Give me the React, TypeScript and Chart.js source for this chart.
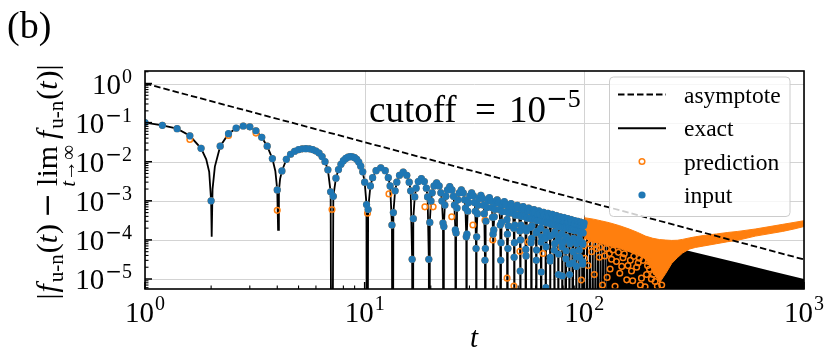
import React, { useEffect, useRef } from "react";
import { Chart, registerables } from "chart.js";

Chart.register(...registerables);

const SERIF = '"Liberation Serif", "Times New Roman", Times, serif';
const MATHMINUS = '"DejaVu Serif", serif';
const BLUE = "#1f77b4";
const ORANGE = "#ff7f0e";

// ---------- axes ----------
const xRange = [1, 1000];
const yRange = [5.55e-6, 2.09];
const xMajorTicks = [1, 10, 100, 1000];
const xTickExponents = ["0", "1", "2", "3"];
const yMajorTicks = [1e-5, 1e-4, 1e-3, 1e-2, 1e-1, 1];
const yTickExponents = ["-5", "-4", "-3", "-2", "-1", "0"];
const legendLabels = ["asymptote", "exact", "prediction", "input"];

// ---------- data (t, value) ----------
const asymptotePts = [[1, 1], [1000, 3.16e-5]];

const exactEarly = [
  [1.0, 0.1], [1.2, 0.085], [1.4, 0.07], [1.6, 0.046], [1.8, 0.022], [1.9, 0.0115], [1.96, 0.0055],
  [2.0, 0.001], [2.012, 0.00012], [2.03, 0.002], [2.08, 0.0075], [2.2, 0.025], [2.4, 0.052], [2.6, 0.072],
  [2.8, 0.082], [3.0, 0.078], [3.2, 0.062], [3.4, 0.042], [3.6, 0.025], [3.8, 0.012], [3.92, 0.0058],
  [4.0, 0.0019], [4.035, 0.00018], [4.07, 0.0018], [4.12, 0.0036], [4.2, 0.0058], [4.4, 0.0115],
  [4.6, 0.0155], [4.8, 0.0185], [5.0, 0.0203], [5.2, 0.0213], [5.4, 0.0216], [5.6, 0.0213], [5.8, 0.0204],
  [6.0, 0.0188], [6.2, 0.0166], [6.4, 0.0136], [6.6, 0.01], [6.8, 0.0062], [7.0, 0.0017], [7.08, 1e-12],
  [7.2, 0.0013], [7.4, 0.0038], [7.6, 0.0063], [7.8, 0.0086], [8.0, 0.0106], [8.2, 0.0121], [8.4, 0.0131],
  [8.6, 0.0135], [8.8, 0.0134], [9.0, 0.0127], [9.2, 0.0115], [9.4, 0.0098], [9.6, 0.0077], [9.8, 0.0055],
  [10.0, 0.003], [10.2, 0.0008], [10.27, 1e-12],
];

const exactLobes = [
  [10.37, 6e-4], [10.62, 0.0024], [10.87, 0.0039], [11.27, 0.0059], [11.84, 0.007], [12.41, 0.0059], [12.81, 0.0039], [13.06, 0.0024], [13.31, 2.4e-4], [13.41, 1e-12],
  [13.51, 5e-4], [13.76, 0.0018], [14.01, 0.003], [14.41, 0.0045], [14.98, 0.0054], [15.55, 0.0045], [15.95, 0.003], [16.2, 0.0018], [16.45, 3.2e-5], [16.55, 1e-12],
  [16.65, 3.5e-4], [16.9, 0.00126], [17.15, 0.0021], [17.55, 0.0031], [18.12, 0.0037], [18.69, 0.0031], [19.09, 0.0021], [19.34, 0.00126], [19.59, 3.2e-5], [19.69, 1e-12],
  [19.79, 2.8e-4], [20.04, 0.00099], [20.29, 0.0016], [20.69, 0.0024], [21.26, 0.0029], [21.83, 0.0024], [22.23, 0.0016], [22.48, 0.00099], [22.73, 2.7e-4], [22.83, 1e-12],
  [22.93, 2.2e-4], [23.18, 7.8e-4], [23.43, 0.0013], [23.83, 0.0019], [24.4, 0.0023], [24.97, 0.0019], [25.37, 0.0013], [25.62, 7.8e-4], [25.87, 1.8e-4], [25.97, 1e-12],
  [26.07, 1.5e-4], [26.32, 6.5e-4], [26.57, 0.00106], [26.97, 0.0016], [27.54, 0.0019], [28.11, 0.0016], [28.51, 0.00106], [28.76, 6.5e-4], [29.01, 1.2e-4], [29.11, 1e-12],
  [29.21, 1.4e-4], [29.46, 5.4e-4], [29.71, 9e-4], [30.11, 0.00134], [30.68, 0.0016], [31.25, 0.00134], [31.65, 9e-4], [31.9, 5.4e-4], [32.15, 6e-5], [32.25, 1e-12],
  [32.35, 1.2e-4], [32.6, 4.7e-4], [32.85, 7.7e-4], [33.25, 0.00116], [33.82, 0.00138], [34.39, 0.00116], [34.79, 7.7e-4], [35.04, 4.7e-4], [35.29, 3e-5], [35.39, 1e-12],
  [35.44, 6e-5], [35.64, 3.0e-4], [35.99, 6.7e-4], [36.39, 1.0e-3], [36.96, 1.2e-3], [37.53, 1.0e-3], [37.93, 6.7e-4], [38.21, 3.8e-4], [38.41, 1.4e-4], [38.53, 1e-12],
  [38.7, 1.8e-4], [38.9, 3.9e-4], [39.13, 6e-4], [39.53, 8.9e-4], [40.1, 1.06e-3], [40.67, 8.9e-4], [41.07, 6e-4], [41.44, 2.4e-4], [41.64, 3e-5], [41.67, 1e-12],
  [41.76, 8.5e-5], [41.96, 2.8e-4], [42.27, 5.3e-4], [42.67, 8e-4], [43.24, 9.5e-4], [43.81, 8e-4], [44.21, 5.3e-4], [44.46, 3.3e-4], [44.66, 1.4e-4], [44.81, 1e-12],
  [44.88, 6e-5], [45.08, 2.3e-4], [45.41, 4.8e-4], [45.81, 7.1e-4], [46.38, 8.5e-4], [46.95, 7.1e-4], [47.35, 4.8e-4], [47.71, 2.0e-4], [47.91, 3.6e-5], [47.95, 1e-12],
  [48.06, 8.5e-5], [48.26, 2.4e-4], [48.55, 4.3e-4], [48.95, 6.5e-4], [49.52, 7.7e-4], [50.09, 6.5e-4], [50.49, 4.3e-4], [50.87, 1.7e-4], [51.07, 1.6e-5], [51.09, 1e-12],
  [51.23, 1.0e-4], [51.43, 2.4e-4], [51.69, 4e-4], [52.09, 6e-4], [52.66, 7.1e-4], [53.23, 6e-4], [53.63, 4e-4], [53.95, 2e-4], [54.15, 5.7e-5], [54.23, 1e-12],
  [54.29, 3.9e-5], [54.49, 1.7e-4], [54.83, 3.6e-4], [55.23, 5.5e-4], [55.8, 6.5e-4], [56.37, 5.5e-4], [56.77, 3.6e-4], [57.04, 2.1e-4], [57.24, 8.5e-5], [57.37, 1e-12],
  [57.55, 1.1e-4], [57.75, 2.3e-4], [57.97, 3.4e-4], [58.37, 5e-4], [58.94, 6e-4], [59.51, 5e-4], [59.91, 3.4e-4], [60.26, 1.5e-4], [60.46, 3e-5], [60.51, 1e-12],
  [60.61, 5.5e-5], [60.81, 1.65e-4], [61.11, 3.1e-4], [61.51, 4.6e-4], [62.08, 5.5e-4], [62.65, 4.6e-4], [63.05, 3.1e-4], [63.29, 2e-4], [63.49, 8.8e-5], [63.65, 1e-12],
  [63.68, 1.5e-5], [63.88, 1.2e-4], [64.25, 2.9e-4], [64.65, 4.3e-4], [65.22, 5.1e-4], [65.79, 4.3e-4], [66.19, 2.9e-4], [66.58, 1.1e-4], [66.78, 6e-6], [66.79, 1e-12],
  [66.93, 6.7e-5], [67.13, 1.6e-4], [67.39, 2.7e-4], [67.79, 4e-4], [68.36, 4.8e-4], [68.93, 4e-4], [69.33, 2.7e-4], [69.67, 1.25e-4], [69.87, 2.9e-5], [69.93, 1e-12],
  [70.01, 3.6e-5], [70.21, 1.26e-4], [70.53, 2.5e-4], [70.93, 3.8e-4], [71.5, 4.5e-4], [72.07, 3.8e-4], [72.47, 2.5e-4], [72.75, 1.4e-4], [72.95, 5.4e-5], [73.07, 1e-12],
  [73.26, 8e-5], [73.46, 1.6e-4], [73.67, 2.4e-4], [74.07, 3.5e-4], [74.64, 4.2e-4], [75.21, 3.5e-4], [75.61, 2.4e-4], [75.98, 9.5e-5], [76.18, 1.3e-5], [76.21, 1e-12],
  [76.32, 4.3e-5], [76.52, 1.2e-4], [76.81, 2.2e-4], [77.21, 3.3e-4], [77.78, 3.9e-4], [78.35, 3.3e-4], [78.75, 2.2e-4], [78.98, 1.45e-4], [79.18, 6.6e-5], [79.35, 1e-12],
  [79.38, 1.2e-5], [79.58, 8.5e-5], [79.95, 2.1e-4], [80.35, 3.1e-4], [80.92, 3.7e-4], [81.49, 3.1e-4], [81.89, 2.1e-4], [82.2, 1.07e-4], [82.4, 3.3e-5], [82.49, 1e-12],
  [82.64, 5.2e-5], [82.84, 1.2e-4], [83.09, 2e-4], [83.49, 2.9e-4], [84.06, 3.5e-4], [84.63, 2.9e-4], [85.03, 2e-4], [85.36, 9.5e-5], [85.56, 2.4e-5], [85.63, 1e-12],
  [85.67, 1.3e-5], [85.87, 8e-5], [86.23, 1.85e-4], [86.63, 2.8e-4], [87.2, 3.3e-4], [87.77, 2.8e-4], [88.17, 1.85e-4], [88.49, 9.2e-5], [88.69, 2.6e-5], [88.77, 1e-12],
  [88.93, 5e-5], [89.13, 1.1e-4], [89.37, 1.75e-4], [89.77, 2.6e-4], [90.34, 3.1e-4], [90.91, 2.6e-4], [91.31, 1.75e-4], [91.59, 1e-4], [91.79, 3.7e-5], [91.91, 1e-12],
  [91.98, 2.1e-5], [92.18, 8e-5], [92.51, 1.7e-4], [92.91, 2.5e-4], [93.48, 3e-4], [94.05, 2.5e-4], [94.45, 1.7e-4], [94.67, 1.1e-4], [94.87, 5.4e-5], [95.05, 1e-12],
  [95.18, 3.6e-5], [95.38, 9.2e-5], [95.65, 1.6e-4], [96.05, 2.35e-4], [96.62, 2.8e-4], [97.19, 2.35e-4], [97.59, 1.6e-4], [97.89, 8.4e-5], [98.09, 2.8e-5], [98.19, 1e-12],
  [98.28, 2.4e-5], [98.48, 7.8e-5], [98.79, 1.5e-4], [99.19, 2.3e-4], [99.76, 2.7e-4],
];

const exactTail = [
  [101.33, 1e-12], [102.9, 2.5e-4], [104.47, 1e-12], [106.04, 2.4e-4], [107.61, 1e-12], [109.18, 2.3e-4],
  [110.75, 1e-12], [112.32, 2.2e-4], [113.89, 1e-12], [115.46, 2.1e-4], [117.03, 1e-12], [118.6, 2.0e-4],
  [120.17, 1e-12], [121.74, 1.95e-4], [123.31, 1e-12], [124.88, 1.9e-4], [126.45, 1e-12], [128.02, 1.8e-4],
  [129.59, 1e-12],
];

// upper envelope of the densely oscillating exact curve (t > 128)
const exactDenseTop = [
  [128, 1.75e-4], [160, 1.25e-4], [200, 9.3e-5], [313, 4.9e-5], [500, 2.6e-5], [700, 1.63e-5], [1000, 1.0e-5],
];

// prediction: outline of the solid mass of overlapping rings (t > 100)
const predictionBandT = [100, 110, 120, 130, 145, 160, 175, 190, 205, 220, 235, 250, 265, 280, 300, 320, 350, 400, 450, 500, 600, 700, 800, 900, 1000];
const predictionBandUpper = [3.7e-4, 3.4e-4, 3.05e-4, 2.75e-4, 2.3e-4, 1.9e-4, 1.55e-4, 1.25e-4, 1.1e-4, 1.02e-4, 9.9e-5, 9.7e-5, 9.8e-5, 1.03e-4, 1.12e-4, 1.2e-4, 1.3e-4, 1.42e-4, 1.55e-4, 1.65e-4, 1.9e-4, 2.2e-4, 2.5e-4, 2.8e-4, 3.1e-4];
const predictionBandLower = [1.1e-4, 9e-5, 8e-5, 7e-5, 6e-5, 5e-5, 4.2e-5, 3.3e-5, 1.6e-5, 8e-6, 1.4e-5, 2.5e-5, 3.5e-5, 4.6e-5, 5.8e-5, 6.4e-5, 7.0e-5, 8.0e-5, 9.0e-5, 9.8e-5, 1.25e-4, 1.45e-4, 1.65e-4, 1.9e-4, 2.2e-4];

// prediction rings that differ from the input (t <= 100)
const predictionDeviations = [
  [1.6, 0.037], [2.4, 0.047], [3.2, 0.054], [4.0, 5.7e-4], [7.1, 6.0e-4], [10.3, 4.8e-4], [12.9, 1.5e-3],
  [18.8, 7e-4], [20.5, 7e-4], [24.9, 3.9e-4], [31.1, 2.4e-4], [35.3, 3.2e-4], [38.3, 1.0e-4], [44.5, 1.05e-5],
  [47.8, 6.6e-6], [50.9, 5.1e-5], [55.5, 8.9e-5], [64.8, 4.5e-5], [74.6, 6.6e-5], [82, 1.1e-4], [90, 9e-5],
  [97, 9.4e-6], [99.5, 7e-5],
];

// scattered prediction rings below the solid mass (t > 100)
const predictionCloud = [
  [100.4, 3.4e-5], [103, 1.0e-4], [104, 2.2e-5], [106, 8e-5], [108, 5e-5], [111, 1.3e-5], [112, 7.5e-5],
  [114, 6e-5], [117, 3.6e-5], [118, 6.5e-5], [121, 7e-6], [124, 3.9e-5], [126, 6e-5], [127, 1.1e-5],
  [130, 4.5e-5], [131, 1.8e-5], [133, 3.2e-5], [135, 5.5e-5], [138, 6.5e-6], [140, 2.8e-5], [143, 4.8e-5],
  [145, 1.4e-5], [148, 2.1e-5], [150, 3.5e-5], [152, 4.4e-5], [156, 9.5e-6], [158, 2.2e-5], [162, 3e-5],
  [164, 1.6e-5], [166, 9e-6], [168, 3.8e-5], [173, 2e-5], [176, 2.6e-5], [178, 3.4e-5], [180, 7e-6],
  [182, 1.05e-5], [185, 3e-5], [189, 6.3e-6], [192, 1.3e-5], [194, 2.2e-5], [196, 2.8e-5], [198, 1.8e-5],
  [202, 1e-5], [206, 1.3e-5], [210, 8.6e-6], [212, 1.5e-5], [215, 6.5e-6], [225, 7e-6],
];

// ---------- helpers ----------
const toXY = (pairs: number[][]) => pairs.map(([x, y]) => ({ x, y }));

function drawExp(ctx: CanvasRenderingContext2D, exp: string, x: number, y: number, size: number) {
  let cx = x;
  if (exp.startsWith("-")) {
    ctx.font = `${size}px ${MATHMINUS}`;
    ctx.fillText("\u2212", cx, y);
    cx += ctx.measureText("\u2212").width;
    exp = exp.slice(1);
  }
  ctx.font = `${size}px ${SERIF}`;
  ctx.fillText(exp, cx, y);
}

function expWidth(ctx: CanvasRenderingContext2D, exp: string, size: number) {
  let w = 0;
  if (exp.startsWith("-")) {
    ctx.font = `${size}px ${MATHMINUS}`;
    w += ctx.measureText("\u2212").width;
    exp = exp.slice(1);
  }
  ctx.font = `${size}px ${SERIF}`;
  return w + ctx.measureText(exp).width;
}

function drawPow10(ctx: CanvasRenderingContext2D, exp: string, x: number, base: number, sup: number, align: string, big: number, small: number) {
  ctx.font = `${big}px ${SERIF}`;
  const w1 = ctx.measureText("10").width;
  const w2 = expWidth(ctx, exp, small);
  const total = w1 + 1 + w2;
  const left = align === "center" ? x - total / 2 : x - total;
  ctx.font = `${big}px ${SERIF}`;
  ctx.fillText("10", left, base);
  drawExp(ctx, exp, left + w1 + 1, sup, small);
}

function drawYLabel(ctx: CanvasRenderingContext2D) {
  const M = `30px ${SERIF}`;
  const I = `italic 30px ${SERIF}`;
  const S = `21px ${SERIF}`;
  const SI = `italic 21px ${SERIF}`;
  const fPart: any[] = [
    { t: "f", f: I, dy: 0, pad: 2 },
    { t: "u-n", f: S, dy: 6, pad: 1 },
    { t: "(", f: M, dy: 0, pad: 0 },
    { t: "t", f: I, dy: 0, pad: 1 },
    { t: ")", f: M, dy: 0, pad: 0 },
  ];
  const seq: any[] = [
    { t: "|", f: M, dy: 0, pad: 1 },
    ...fPart,
    { t: "\u2212", f: `30px ${MATHMINUS}`, dy: 0, pad: 0, padL: 6, padR: 6 },
    { lim: true },
    ...fPart,
    { t: "|", f: M, dy: 0, pad: 0 },
  ];
  ctx.save();
  const widths = seq.map((p) => {
    if (p.lim) {
      ctx.font = M;
      const wl = ctx.measureText("lim").width;
      ctx.font = SI;
      let ws = ctx.measureText("t").width;
      ctx.font = S;
      ws += ctx.measureText("\u2192\u221e").width;
      return Math.max(wl, ws) + 6;
    }
    ctx.font = p.f;
    return ctx.measureText(p.t).width + (p.pad || 0) + (p.padL || 0) + (p.padR || 0);
  });
  const total = widths.reduce((a, b) => a + b, 0);
  ctx.translate(57, 182);
  ctx.rotate(-Math.PI / 2);
  ctx.fillStyle = "#000";
  let x = -total / 2;
  seq.forEach((p, i) => {
    if (p.lim) {
      const w = widths[i] - 6;
      ctx.font = M;
      const wl = ctx.measureText("lim").width;
      ctx.fillText("lim", x + (w - wl) / 2, 0);
      ctx.font = SI;
      const wt = ctx.measureText("t").width;
      ctx.font = S;
      const wa = ctx.measureText("\u2192\u221e").width;
      const sx = x + (w - wt - wa) / 2;
      ctx.font = SI;
      ctx.fillText("t", sx, 18);
      ctx.font = S;
      ctx.fillText("\u2192\u221e", sx + wt, 18);
    } else {
      ctx.font = p.f;
      ctx.fillText(p.t, x + (p.padL || 0), p.dy);
    }
    x += widths[i];
  });
  ctx.restore();
}

const decor = {
  id: "decor",
  beforeDatasetsDraw(chart: any) {
    const { ctx, chartArea: a, scales } = chart;
    ctx.save();
    ctx.strokeStyle = "#d3d3d3";
    ctx.lineWidth = 1;
    ctx.beginPath();
    xMajorTicks.forEach((v) => {
      const px = Math.round(scales.x.getPixelForValue(v)) + 0.5;
      ctx.moveTo(px, a.top);
      ctx.lineTo(px, a.bottom);
    });
    yMajorTicks.forEach((v) => {
      const py = Math.round(scales.y.getPixelForValue(v)) + 0.5;
      ctx.moveTo(a.left, py);
      ctx.lineTo(a.right, py);
    });
    ctx.stroke();
    ctx.restore();
  },
  afterDatasetsDraw(chart: any) {
    const { ctx, chartArea: a, scales } = chart;
    ctx.save();
    // annotation
    ctx.fillStyle = "#000";
    ctx.textBaseline = "alphabetic";
    ctx.font = `37px ${SERIF}`;
    ctx.fillText("cutoff", 369, 121.5);
    const we = ctx.measureText("=").width;
    ctx.fillText("=", 485.5 - we / 2, 121.5);
    ctx.fillText("10", 509, 121.5);
    drawExp(ctx, "-5", 546, 106.5, 26);

    // legend
    const bx = 609.5, by = 77, bw = 180.5, bh = 139.5, r = 4;
    ctx.beginPath();
    ctx.moveTo(bx + r, by);
    ctx.arcTo(bx + bw, by, bx + bw, by + bh, r);
    ctx.arcTo(bx + bw, by + bh, bx, by + bh, r);
    ctx.arcTo(bx, by + bh, bx, by, r);
    ctx.arcTo(bx, by, bx + bw, by, r);
    ctx.closePath();
    ctx.fillStyle = "rgba(255,255,255,0.8)";
    ctx.fill();
    ctx.strokeStyle = "#cccccc";
    ctx.lineWidth = 1;
    ctx.stroke();
    const rows = [94.5, 128.3, 161.5, 195];
    ctx.strokeStyle = "#000";
    ctx.lineWidth = 1.8;
    ctx.setLineDash([6.5, 3]);
    ctx.beginPath();
    ctx.moveTo(618, rows[0]);
    ctx.lineTo(666, rows[0]);
    ctx.stroke();
    ctx.setLineDash([]);
    ctx.lineWidth = 2;
    ctx.beginPath();
    ctx.moveTo(618, rows[1]);
    ctx.lineTo(666, rows[1]);
    ctx.stroke();
    ctx.strokeStyle = ORANGE;
    ctx.lineWidth = 1.5;
    ctx.beginPath();
    ctx.arc(642, rows[2], 2.8, 0, Math.PI * 2);
    ctx.stroke();
    ctx.fillStyle = BLUE;
    ctx.beginPath();
    ctx.arc(642, rows[3], 3.6, 0, Math.PI * 2);
    ctx.fill();
    ctx.fillStyle = "#000";
    ctx.font = `23.5px ${SERIF}`;
    legendLabels.forEach((s, i) => ctx.fillText(s, 684, rows[i] + 8));

    // frame
    ctx.strokeStyle = "#000";
    ctx.lineWidth = 1.6;
    ctx.strokeRect(a.left, a.top, a.right - a.left, a.bottom - a.top);

    // ticks (inward)
    const tick = (x1: number, y1: number, x2: number, y2: number, w: number) => {
      ctx.lineWidth = w;
      ctx.beginPath();
      ctx.moveTo(x1, y1);
      ctx.lineTo(x2, y2);
      ctx.stroke();
    };
    xMajorTicks.forEach((v) => {
      const px = scales.x.getPixelForValue(v);
      tick(px, a.bottom, px, a.bottom - 7, 1.5);
    });
    for (let d = 0; d < 3; d++) {
      for (let m = 2; m <= 9; m++) {
        const px = scales.x.getPixelForValue(m * Math.pow(10, d));
        tick(px, a.bottom, px, a.bottom - 3.5, 1.1);
      }
    }
    yMajorTicks.forEach((v) => {
      const py = scales.y.getPixelForValue(v);
      tick(a.left, py, a.left + 7, py, 1.5);
    });
    for (let d = -6; d <= 0; d++) {
      for (let m = 2; m <= 9; m++) {
        const v = m * Math.pow(10, d);
        if (v < yRange[0] || v > yRange[1]) continue;
        const py = scales.y.getPixelForValue(v);
        tick(a.left, py, a.left + 3.5, py, 1.1);
      }
    }
    ctx.restore();
  },
  afterDraw(chart: any) {
    const { ctx, chartArea: a, scales } = chart;
    ctx.save();
    ctx.fillStyle = "#000";
    ctx.textBaseline = "alphabetic";
    xMajorTicks.forEach((v, i) => {
      const px = scales.x.getPixelForValue(v);
      drawPow10(ctx, xTickExponents[i], px, a.bottom + 32.5, a.bottom + 21, "center", 29, 20);
    });
    yMajorTicks.forEach((v, i) => {
      const py = scales.y.getPixelForValue(v);
      drawPow10(ctx, yTickExponents[i], a.left - 13, py + 10, py - 1, "right", 29, 20);
    });
    ctx.font = `italic 29px ${SERIF}`;
    const wt = ctx.measureText("t").width;
    ctx.fillText("t", 474 - wt / 2, 347);
    ctx.font = `38px ${SERIF}`;
    ctx.fillText("(b)", 7, 38);
    drawYLabel(ctx);
    ctx.restore();
  },
};

export default function App() {
  const ref = useRef<HTMLCanvasElement | null>(null);

  useEffect(() => {
    if (!ref.current) return;
    const exactAll = [...exactEarly, ...exactLobes, ...exactTail];
    const inputPts = exactAll.filter(
      ([t, v]) => t <= 100 && v > 1e-9 && (t > 10.25 || Math.abs(t * 5 - Math.round(t * 5)) < 1e-6)
    );
    const predictionPts = [...inputPts, ...predictionDeviations, ...predictionCloud];
    const upper = predictionBandT.map((t, i) => ({ x: t, y: predictionBandUpper[i] }));
    const lower = predictionBandT.map((t, i) => ({ x: t, y: predictionBandLower[i] }));

    const chart = new Chart(ref.current, {
      type: "line",
      data: {
        datasets: [
          {
            label: "asymptote",
            data: toXY(asymptotePts),
            borderColor: "#000",
            borderWidth: 1.8,
            borderDash: [6.5, 3],
            pointRadius: 0,
            fill: false,
            order: 0,
            clip: 0,
          },
          {
            label: "input",
            data: toXY(inputPts),
            showLine: false,
            pointRadius: 3.6,
            pointBorderWidth: 0,
            pointBackgroundColor: BLUE,
            pointBorderColor: BLUE,
            order: 1,
            clip: 0,
          },
          {
            label: "prediction",
            data: toXY(predictionPts),
            showLine: false,
            pointRadius: 2.8,
            pointBorderWidth: 1.5,
            pointBackgroundColor: "rgba(0,0,0,0)",
            pointBorderColor: ORANGE,
            order: 2,
            clip: 0,
          },
          {
            label: "predictionMassUpper",
            data: upper,
            borderColor: ORANGE,
            borderWidth: 1,
            backgroundColor: ORANGE,
            pointRadius: 0,
            fill: "+1",
            order: 3,
            clip: 0,
          },
          {
            label: "predictionMassLower",
            data: lower,
            borderColor: ORANGE,
            borderWidth: 1,
            pointRadius: 0,
            fill: false,
            order: 4,
            clip: 0,
          },
          {
            label: "exactDense",
            data: toXY(exactDenseTop),
            borderWidth: 0,
            borderColor: "#000",
            backgroundColor: "#000",
            pointRadius: 0,
            fill: "start",
            order: 5,
            clip: 0,
          },
          {
            label: "exact",
            data: toXY(exactAll),
            borderColor: "#000",
            borderWidth: 1.8,
            pointRadius: 0,
            fill: false,
            order: 6,
            clip: 0,
          },
        ],
      },
      options: {
        animation: false,
        responsive: false,
        devicePixelRatio: 1,
        layout: { padding: { left: 145, right: 27, top: 71, bottom: 69 } },
        elements: { line: { tension: 0 } },
        scales: {
          x: { type: "logarithmic", min: xRange[0], max: xRange[1], display: false },
          y: { type: "logarithmic", min: yRange[0], max: yRange[1], display: false },
        },
        plugins: {
          legend: { display: false },
          tooltip: { enabled: false },
        },
      },
      plugins: [decor],
    } as any);
    return () => chart.destroy();
  }, []);

  return (
    <div style={{ position: "fixed", left: 0, top: 0, width: 831, height: 358, background: "#fff" }}>
      <canvas ref={ref} width={831} height={358} style={{ display: "block", width: 831, height: 358 }} />
    </div>
  );
}
